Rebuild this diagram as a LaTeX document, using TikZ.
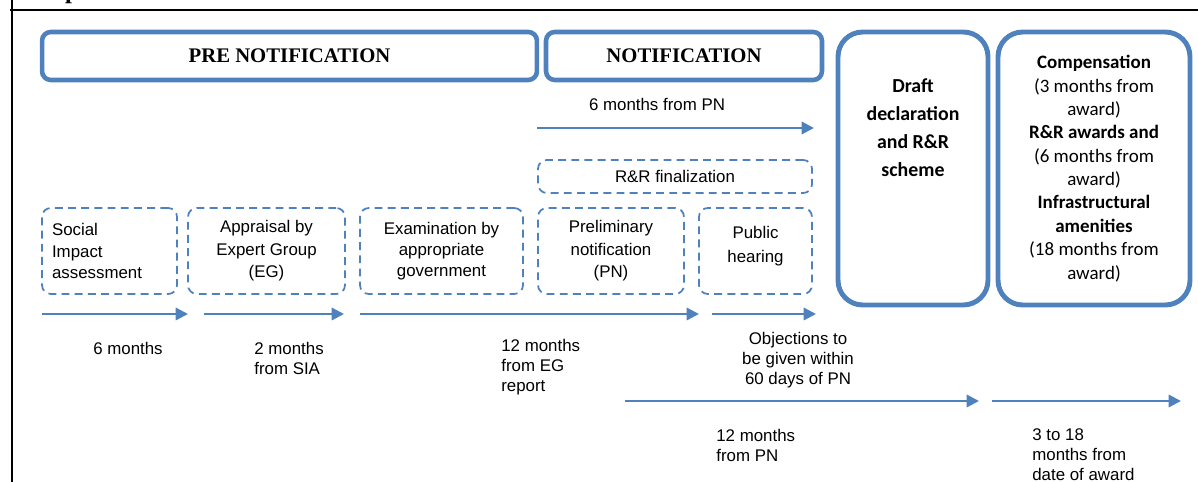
\documentclass[tikz,border=0pt]{standalone}
\usepackage{fontspec}
\setmainfont{Liberation Sans}
\newfontfamily\timesfont{Liberation Serif}
\newfontfamily\calibfont{Carlito}
\usetikzlibrary{arrows.meta}
\definecolor{boxblue}{RGB}{79,129,189}
\begin{document}
\begin{tikzpicture}[
        x=0.02cm, y=-0.02cm,
        >={Triangle[length=7pt,width=7pt]},
        phase/.style={draw=boxblue, line width=2.6pt, rounded corners=5pt, minimum height=0.96cm, font=\timesfont\bfseries\fontsize{11.8}{14}\selectfont},
        stage/.style={draw=boxblue, line width=2.8pt, rounded corners=14pt, minimum height=5.46cm},
        dbox/.style={draw=boxblue, line width=1pt, dash pattern=on 4.5pt off 3pt, rounded corners=5pt, minimum height=1.72cm, align=center, font=\fontsize{9.6}{12}\selectfont},
        tline/.style={->, draw=boxblue, line width=1.3pt},
        lbl/.style={inner sep=0pt, align=left, font=\fontsize{9.6}{11.4}\selectfont},
        ]
        \useasboundingbox (0,0) rectangle (1198,482);
        % frame of the page
        \draw[line width=1.5pt] (12,0) -- (12,482);
        \draw[line width=0.8pt] (10,10) -- (1198,10);
        \node[anchor=base, inner sep=0pt, font=\timesfont\bfseries\fontsize{14}{14}\selectfont] (head) at (72,-1) {p};
        % phases
        \node[phase, minimum width=9.9cm] (pre) at (289.5,56) {PRE NOTIFICATION};
        \node[phase, minimum width=5.52cm] (notif) at (684,56) {NOTIFICATION};
        \node[stage, minimum width=3cm] (draft) at (913,168.5) {};
        \node[align=center, font=\calibfont\bfseries\fontsize{11.3}{16}\selectfont] (drafttext) at (913,128) {Draft\\declaration\\and R\&R\\scheme};
        \node[stage, minimum width=3.84cm, align=center, font=\calibfont\fontsize{10.8}{13.3}\selectfont] (award) at (1094,168.5)
            {\textbf{Compensation}\\(3 months from\\award)\\\textbf{R\&R awards and}\\(6 months from\\award)\\\textbf{Infrastructural}\\\textbf{amenities}\\(18 months from\\award)};
        % steps
        \node[dbox, minimum width=5.48cm, minimum height=0.66cm] (rr) at (675,176.5) {R\&R finalization};
        \node[dbox, minimum width=2.7cm, text width=2.3cm, align=left] (sia) at (109.5,251) {Social\\Impact\\assessment};
        \node[dbox, minimum width=3.14cm] (eg) at (266.5,251) {Appraisal by\\[0.8pt]Expert Group\\[0.8pt](EG)};
        \node[dbox, minimum width=3.26cm] (exam) at (441.5,251) {Examination by\\appropriate\\government};
        \node[dbox, minimum width=2.92cm] (prelim) at (611,251) {Preliminary\\[0.8pt]notification\\[0.8pt](PN)};
        \node[dbox, minimum width=2.26cm] (hear) at (755.5,251) {Public\\[1.6pt]hearing\\[-4pt]\mbox{}};
        % time lines
        \foreach \a/\b/\y/\n in {537/814/128/pn, 42/188/314/sia, 204/344/314/eg, 360/699/314/exam, 712/816/314/hear, 625/979/401/decl, 992/1181/401/award}{
            \coordinate (s\n) at (\a,\y);
            \coordinate (e\n) at (\b,\y);
            \draw[tline] (s\n) -- (e\n);
        }
        % durations
        \node[lbl] (lpn) at (657,104) {6 months from PN};
        \node[lbl] (lsia) at (128,348) {6 months};
        \node[lbl, anchor=west] (leg) at (254,358) {2 months\\from SIA};
        \node[lbl, anchor=west] (lexam) at (501,367) {12 months\\from EG\\report};
        \node[lbl, align=center] (lhear) at (798,360) {Objections to\\be given within\\60 days of PN};
        \node[lbl, anchor=west] (ldecl) at (716,445) {12 months\\from PN};
        \node[lbl, anchor=west] (laward) at (1032,455) {3 to 18\\months from\\date of award};
\end{tikzpicture}
\end{document}
